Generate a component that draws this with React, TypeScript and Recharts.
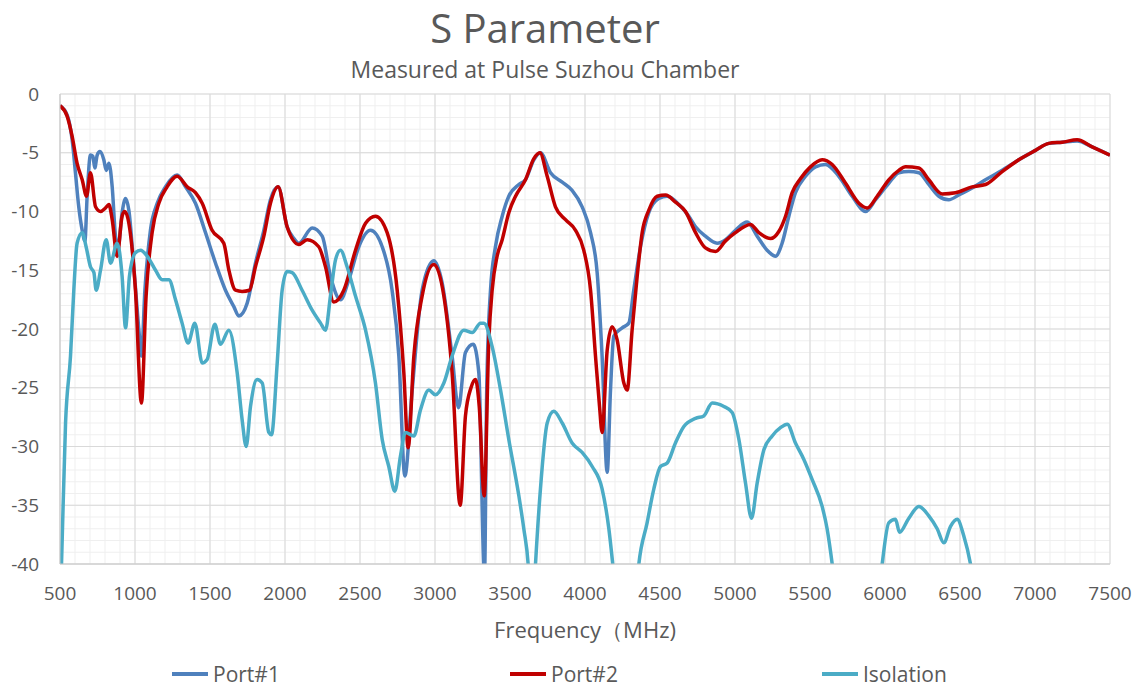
import { LineChart, Line, XAxis, YAxis, CartesianGrid, Legend } from "recharts";

// Port#1 (blue) return loss, MHz / dB
const port1Freq = [
  500, 548, 581, 603, 625, 648, 666, 681, 703, 719, 732, 748, 766, 792, 808, 826, 848, 870, 888, 914,
  937, 959, 992, 1026, 1043, 1066, 1103, 1148, 1203, 1281, 1337, 1403, 1470, 1537, 1603, 1659, 1692,
  1748, 1803, 1859, 1903, 1954, 2014, 2060, 2092, 2181, 2248, 2303, 2370, 2426, 2492, 2570, 2648, 2714,
  2759, 2799, 2848, 2914, 2992, 3048, 3114, 3157, 3203, 3255, 3292, 3330, 3345, 3370, 3403, 3448, 3492,
  3559, 3603, 3659, 3703, 3770, 3848, 3914, 3981, 4037, 4081, 4114, 4148, 4170, 4192, 4248, 4292, 4325,
  4370, 4425, 4492, 4548, 4626, 4692, 4737, 4803, 4881, 4937, 5003, 5081, 5148, 5214, 5270, 5314, 5359,
  5403, 5470, 5537, 5603, 5692, 5781, 5870, 5937, 6025, 6092, 6159, 6226, 6292, 6359, 6425, 6492, 6581,
  6670, 6781, 6892, 7003, 7092, 7181, 7281, 7381, 7500,
];
const port1Db = [
  -1.0, -1.8, -3.9, -6.7, -9.6, -11.6, -12.5, -8.7, -5.2, -5.3, -6.3, -5.2, -4.9, -5.6, -6.5, -5.9, -7.9,
  -12.1, -13.0, -10.1, -8.9, -9.9, -14.7, -20.1, -22.3, -16.7, -11.6, -9.3, -7.9, -6.9, -7.9, -9.3, -11.8,
  -14.4, -16.7, -18.1, -18.9, -17.8, -14.4, -11.6, -9.0, -7.9, -11.3, -12.3, -12.7, -11.4, -12.1, -15.5,
  -17.5, -15.8, -13.0, -11.6, -13.0, -16.7, -22.3, -32.5, -25.2, -16.7, -14.2, -16.1, -22.3, -26.7, -22.0,
  -21.3, -23.7, -41, -25, -16.7, -13.0, -10.4, -8.7, -7.7, -7.3, -5.6, -5.0, -6.7, -7.5, -8.2, -9.6, -11.8,
  -15.2, -22.3, -32.2, -25.2, -20.6, -19.9, -19.5, -16.7, -13.0, -10.1, -8.9, -8.7, -9.4, -10.4, -11.3,
  -12.1, -12.7, -12.4, -11.6, -10.9, -12.1, -13.3, -13.8, -12.7, -10.4, -8.4, -7.0, -6.2, -6.0, -7.0,
  -8.7, -10.0, -9.0, -7.6, -6.7, -6.6, -6.7, -7.7, -8.7, -9.0, -8.6, -8.0, -7.3, -6.5, -5.6, -4.8, -4.2,
  -4.1, -4.0, -4.5, -5.2,
];

// Port#2 (red)
const port2Freq = [
  500, 548, 581, 614, 648, 677, 703, 737, 770, 803, 826, 848, 881, 914, 932, 959, 1003, 1043, 1074, 1114,
  1159, 1214, 1281, 1348, 1403, 1448, 1514, 1592, 1626, 1670, 1714, 1763, 1803, 1859, 1903, 1954, 2014,
  2092, 2148, 2225, 2270, 2325, 2392, 2470, 2537, 2603, 2681, 2748, 2792, 2821, 2859, 2914, 2992, 3059,
  3114, 3168, 3203, 3240, 3270, 3295, 3328, 3359, 3381, 3414, 3448, 3492, 3537, 3603, 3659, 3699, 3748,
  3803, 3870, 3937, 3992, 4037, 4070, 4097, 4114, 4148, 4181, 4214, 4259, 4281, 4314, 4348, 4381, 4425,
  4481, 4537, 4603, 4670, 4737, 4803, 4870, 4937, 5003, 5103, 5159, 5237, 5292, 5337, 5381, 5437, 5503,
  5581, 5648, 5737, 5826, 5881, 5948, 6025, 6092, 6137, 6226, 6292, 6381, 6470, 6581, 6670, 6781, 6892,
  7003, 7092, 7181, 7281, 7381, 7500,
];
const port2Db = [
  -1.0, -1.9, -3.6, -5.9, -7.3, -8.7, -6.7, -9.6, -10.0, -9.7, -9.4, -10.7, -13.8, -10.4, -10.0, -11.0,
  -16.7, -26.3, -17.2, -11.8, -9.3, -7.9, -7.0, -7.9, -8.4, -9.3, -11.6, -12.7, -15.0, -16.7, -16.8, -16.7,
  -14.7, -12.1, -9.3, -7.9, -11.3, -12.8, -12.4, -13.0, -14.7, -17.7, -16.7, -13.3, -11.0, -10.4, -11.8,
  -16.7, -23.7, -30.1, -22.3, -17.2, -14.5, -17.2, -23.7, -35.0, -27.4, -25.0, -24.3, -26.6, -34.2, -20.9,
  -16.7, -13.8, -12.4, -10.1, -8.7, -7.3, -5.5, -5.0, -7.0, -9.6, -10.7, -11.6, -13.3, -16.7, -22.3, -26.6,
  -28.8, -21.8, -19.8, -20.9, -24.6, -25.2, -20.1, -15.5, -11.8, -9.9, -8.7, -8.6, -9.2, -10.0, -11.8,
  -13.1, -13.4, -12.5, -11.8, -11.1, -11.8, -12.3, -11.7, -10.4, -8.4, -7.2, -6.2, -5.6, -6.0, -7.6, -9.3,
  -9.7, -8.7, -7.3, -6.5, -6.2, -6.3, -7.3, -8.5, -8.4, -7.9, -7.7, -6.6, -5.6, -4.8, -4.2, -4.1, -3.9,
  -4.5, -5.2,
];

// Isolation (teal); values under -40 fall off the bottom of the plot
const isoFreq = [
  500, 510, 537, 570, 592, 614, 648, 674, 703, 726, 741, 770, 808, 837, 881, 914, 937, 963, 1003, 1037,
  1081, 1137, 1181, 1226, 1270, 1314, 1354, 1399, 1448, 1481, 1532, 1570, 1626, 1681, 1714, 1741, 1770,
  1814, 1848, 1892, 1910, 1948, 1981, 2014, 2048, 2114, 2181, 2237, 2270, 2303, 2337, 2370, 2414, 2470,
  2537, 2603, 2648, 2692, 2732, 2770, 2803, 2859, 2903, 2959, 3003, 3059, 3114, 3192, 3248, 3303, 3326,
  3381, 3437, 3492, 3559, 3592, 3621, 3645, 3670, 3703, 3748, 3792, 3848, 3914, 3981, 4048, 4114, 4159,
  4185, 4230, 4320, 4359, 4414, 4459, 4503, 4548, 4603, 4659, 4737, 4792, 4848, 4926, 4981, 5026, 5070,
  5110, 5148, 5192, 5248, 5303, 5348, 5403, 5459, 5514, 5581, 5614, 5648, 5700, 5930, 5981, 6025, 6070,
  6097, 6159, 6226, 6292, 6348, 6392, 6437, 6481, 6525, 6570, 6650,
];
const isoDb = [
  -44, -40, -28, -22.3, -16.7, -12.7, -11.8, -13.0, -14.7, -15.2, -16.7, -15.0, -12.4, -14.4, -12.7, -15.5,
  -19.9, -15.5, -13.5, -13.3, -13.8, -15.0, -15.8, -15.8, -17.5, -19.5, -21.2, -19.5, -22.9, -22.6, -19.6,
  -21.3, -20.1, -23.7, -27.7, -30.0, -26.6, -24.3, -24.6, -28.8, -29.0, -22.9, -16.7, -15.1, -15.2, -16.7,
  -18.4, -19.5, -20.1, -17.2, -14.1, -13.3, -14.7, -17.2, -20.1, -24.6, -29.4, -31.7, -33.8, -30.8, -28.8,
  -29.1, -26.9, -25.2, -25.6, -24.6, -22.3, -20.1, -20.3, -19.5, -19.5, -21.5, -25.2, -29.4, -34.2, -37.0,
  -40, -46, -40, -33.6, -28.0, -27.0, -28.0, -29.7, -30.5, -31.7, -33.6, -37.0, -40, -46, -46, -40, -36.5,
  -33.6, -31.7, -31.4, -29.7, -28.3, -27.6, -27.4, -26.3, -26.6, -27.1, -29.4, -33.1, -36.1, -33.1, -30.3,
  -29.1, -28.4, -28.1, -29.7, -31.1, -32.8, -35.1, -37.0, -40, -46, -46, -40, -36.5, -36.2, -37.3, -36.1,
  -35.1, -35.9, -37.0, -38.2, -36.8, -36.2, -37.6, -40, -48,
];

const xTicks = [500, 1000, 1500, 2000, 2500, 3000, 3500, 4000, 4500, 5000, 5500, 6000, 6500, 7000, 7500];
const yTicks = [-40, -35, -30, -25, -20, -15, -10, -5, 0];
const minorX = Array.from({ length: 71 }, (_, i) => 500 + i * 100);
const minorY = Array.from({ length: 41 }, (_, i) => -40 + i);

const rows = (f: number[], v: number[]) => f.map((x, i) => ({ f: x, v: v[i] }));
const port1 = rows(port1Freq, port1Db);
const port2 = rows(port2Freq, port2Db);
const isolation = rows(isoFreq, isoDb);

const TEXT = "#595959";

const series = [
  { name: "Port#1", color: "#4F81BD" },
  { name: "Port#2", color: "#C00000" },
  { name: "Isolation", color: "#4BACC6" },
];

function LegendRow() {
  const widths = [338, 312, 200];
  return (
    <div style={{ display: "flex", height: 30, alignItems: "center", paddingLeft: 172, paddingTop: 6, boxSizing: "border-box" }}>
      {series.map((s, i) => (
        <div key={s.name} style={{ width: widths[i], display: "flex", alignItems: "center" }}>
          <span style={{ width: 36, height: 4, background: s.color, display: "inline-block", marginRight: 5 }} />
          <span style={{ color: TEXT, fontSize: 21 }}>{s.name}</span>
        </div>
      ))}
    </div>
  );
}

export default function App() {
  const minorXGen = ({ xAxis, offset }: any) =>
    minorX.map((v) =>
      typeof xAxis?.scale === "function" ? xAxis.scale(v) : offset.left + ((v - 500) / 7000) * offset.width
    );
  const minorYGen = ({ yAxis, offset }: any) =>
    minorY.map((v) =>
      typeof yAxis?.scale === "function" ? yAxis.scale(v) : offset.top + (-v / 40) * offset.height
    );

  return (
    <div
      style={{
        position: "absolute",
        left: 0,
        top: 0,
        width: 1141,
        height: 686,
        background: "#fff",
        fontFamily: "'Open Sans', sans-serif",
      }}
    >
      <div style={{ position: "absolute", left: 0, width: 1090, top: 0, textAlign: "center", fontSize: 40, color: TEXT }}>
        S Parameter
      </div>
      <div style={{ position: "absolute", left: 0, width: 1090, top: 53, textAlign: "center", fontSize: 23, color: TEXT }}>
        Measured at Pulse Suzhou Chamber
      </div>
      <LineChart width={1141} height={686} margin={{ top: 94, right: 31, bottom: 0, left: 0 }}>
        <CartesianGrid
          stroke="#efefef"
          verticalCoordinatesGenerator={minorXGen}
          horizontalCoordinatesGenerator={minorYGen}
        />
        <CartesianGrid stroke="#d9d9d9" />
        <XAxis
          type="number"
          dataKey="f"
          domain={[500, 7500]}
          ticks={xTicks}
          interval={0}
          allowDataOverflow
          height={92}
          tickSize={0}
          tickMargin={23}
          axisLine={{ stroke: "#c8c8c8" }}
          tick={{ fill: TEXT, fontSize: 19 }}
          label={{ value: "Frequency（MHz)", position: "insideBottom", offset: 18, fill: TEXT, fontSize: 22 }}
        />
        <YAxis
          type="number"
          domain={[-40, 0]}
          ticks={yTicks}
          interval={0}
          allowDataOverflow
          width={60}
          tickSize={0}
          tickMargin={21}
          axisLine={{ stroke: "#c8c8c8" }}
          tick={{ fill: TEXT, fontSize: 19 }}
        />
        <Legend verticalAlign="bottom" height={30} wrapperStyle={{ left: 0, width: 1141 }} content={() => <LegendRow />} />
        <Line data={port1} dataKey="v" name="Port#1" type="monotone" stroke="#4F81BD" strokeWidth={3.5} dot={false} isAnimationActive={false} />
        <Line data={port2} dataKey="v" name="Port#2" type="monotone" stroke="#C00000" strokeWidth={3.5} dot={false} isAnimationActive={false} />
        <Line data={isolation} dataKey="v" name="Isolation" type="monotone" stroke="#4BACC6" strokeWidth={3.5} dot={false} isAnimationActive={false} />
      </LineChart>
    </div>
  );
}
